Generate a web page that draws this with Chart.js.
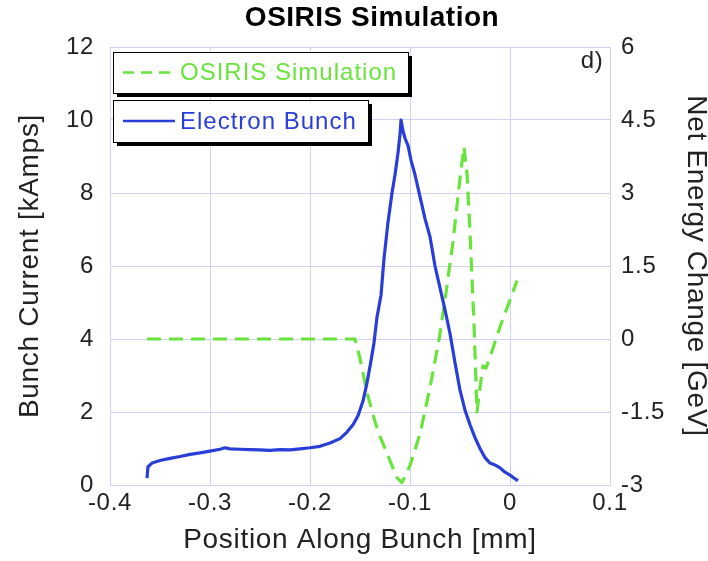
<!DOCTYPE html>
<html>
<head>
<meta charset="utf-8">
<script src="https://cdn.jsdelivr.net/npm/chart.js@4/dist/chart.umd.min.js"></script>
<style>
  html, body { margin: 0; padding: 0; background: #fff; }
  #wrap { width: 708px; height: 561px; }
</style>
</head>
<body>
<div id="wrap"><canvas id="chart" width="708" height="561"></canvas></div>
<script>
// Electron bunch current (left axis, kAmps)
const bunchPos = [-0.363, -0.362, -0.358, -0.35, -0.34, -0.33, -0.32, -0.31, -0.30, -0.29, -0.285, -0.28, -0.27, -0.26, -0.25, -0.24, -0.23, -0.22, -0.21, -0.20, -0.19, -0.18, -0.17, -0.163, -0.157, -0.152, -0.147, -0.143, -0.139, -0.136, -0.133, -0.129, -0.126, -0.122, -0.118, -0.115, -0.114, -0.112, -0.11, -0.109, -0.107, -0.105, -0.102, -0.099, -0.095, -0.09, -0.085, -0.08, -0.075, -0.07, -0.065, -0.06, -0.055, -0.05, -0.045, -0.04, -0.035, -0.03, -0.025, -0.02, -0.015, -0.01, -0.005, 0.0, 0.005, 0.008];
const bunchCurrent = [0.19, 0.5, 0.6, 0.67, 0.73, 0.78, 0.84, 0.88, 0.93, 0.98, 1.02, 0.99, 0.98, 0.97, 0.96, 0.95, 0.97, 0.96, 0.99, 1.02, 1.06, 1.15, 1.27, 1.45, 1.65, 1.9, 2.3, 2.8, 3.4, 3.9, 4.6, 5.2, 6.2, 7.2, 8.0, 8.5, 8.7, 9.1, 9.6, 10.0, 9.7, 9.5, 9.3, 8.9, 8.5, 7.9, 7.3, 6.8, 6.0, 5.4, 4.8, 4.15, 3.35, 2.6, 2.05, 1.65, 1.3, 1.0, 0.75, 0.6, 0.55, 0.47, 0.35, 0.27, 0.17, 0.12];

// OSIRIS simulation net energy change (right axis, GeV)
const simPos = [-0.363, -0.155, -0.15, -0.143, -0.135, -0.13, -0.12, -0.113, -0.108, -0.1, -0.09, -0.08, -0.07, -0.063, -0.057, -0.05, -0.046, -0.043, -0.04, -0.036, -0.033, -0.03, -0.027, -0.024, -0.018, -0.01, 0.0, 0.007];
const simEnergy = [0.0, 0.0, -0.4, -1.1, -1.7, -2.0, -2.5, -2.85, -2.95, -2.6, -1.95, -1.0, 0.1, 1.1, 2.0, 3.3, 3.95, 3.4, 2.2, 0.3, -1.5, -1.0, -0.55, -0.6, -0.25, 0.25, 0.8, 1.2];

const xTicks = [-0.4, -0.3, -0.2, -0.1, 0, 0.1];
const leftTicks = [0, 2, 4, 6, 8, 10, 12];
const rightTicks = [-3, -1.5, 0, 1.5, 3, 4.5, 6];

const blue = 'rgb(40, 62, 215)';
const green = 'rgb(105, 228, 60)';
const gridColor = 'rgb(208, 208, 245)';
const textColor = '#222';
const fontFamily = '"Liberation Sans", Arial, Helvetica, sans-serif';

function toPoints(xs, ys) {
    return xs.map((x, i) => ({ x: x, y: ys[i] }));
}

// the original figure's lettering is a bit wider than Helvetica
const spacingPlugin = {
    id: 'spacing',
    beforeUpdate(chart) { chart.ctx.letterSpacing = '0.7px'; },
    beforeDraw(chart) { chart.ctx.letterSpacing = '0.7px'; }
};

// title, legend boxes and panel label
const decorPlugin = {
    id: 'decor',
    afterDraw(chart) {
        const ctx = chart.ctx;
        ctx.save();
        ctx.letterSpacing = '0.5px';
        ctx.fillStyle = '#000';
        ctx.font = 'bold 28px ' + fontFamily;
        ctx.textAlign = 'center';
        ctx.textBaseline = 'middle';
        ctx.fillText('OSIRIS Simulation', 372, 18);

        ctx.font = '24px ' + fontFamily;
        ctx.fillStyle = textColor;
        ctx.fillText('d)', 592, 61);

        const boxes = [
            { x: 113, y: 52, w: 295, h: 41, label: 'OSIRIS Simulation', color: green, dash: [11, 7] },
            { x: 113, y: 100, w: 255, h: 42, label: 'Electron Bunch', color: blue, dash: [] }
        ];
        boxes.forEach(b => {
            ctx.fillStyle = '#000';
            ctx.fillRect(b.x + 4, b.y + 4, b.w, b.h);
            ctx.fillStyle = '#fff';
            ctx.fillRect(b.x, b.y, b.w, b.h);
            ctx.strokeStyle = '#000';
            ctx.lineWidth = 1;
            ctx.setLineDash([]);
            ctx.strokeRect(b.x + 0.5, b.y + 0.5, b.w, b.h);

            const cy = b.y + b.h / 2;
            ctx.strokeStyle = b.color;
            ctx.lineWidth = 2.5;
            ctx.setLineDash(b.dash);
            ctx.beginPath();
            ctx.moveTo(b.x + 10, cy);
            ctx.lineTo(b.x + 62, cy);
            ctx.stroke();
            ctx.setLineDash([]);

            ctx.fillStyle = b.color;
            ctx.letterSpacing = '1px';
            ctx.font = '24px ' + fontFamily;
            ctx.textAlign = 'left';
            ctx.fillText(b.label, b.x + 67, cy + 1);
        });
        ctx.restore();
    }
};

const ctx = document.getElementById('chart').getContext('2d');
const chart = new Chart(ctx, {
    type: 'line',
    data: {
        datasets: [{
            label: 'Electron Bunch',
            data: toPoints(bunchPos, bunchCurrent),
            borderColor: blue,
            borderWidth: 3.2,
            borderJoinStyle: 'round',
            pointRadius: 0,
            tension: 0,
            yAxisID: 'y'
        }, {
            label: 'OSIRIS Simulation',
            data: toPoints(simPos, simEnergy),
            borderColor: green,
            borderWidth: 3.2,
            borderDash: [14, 8],
            borderJoinStyle: 'round',
            pointRadius: 0,
            tension: 0,
            yAxisID: 'y2'
        }]
    },
    options: {
        responsive: false,
        animation: false,
        layout: { padding: { top: 47, left: 0, right: 0, bottom: 0 } },
        plugins: {
            legend: { display: false },
            title: { display: false },
            tooltip: { enabled: false }
        },
        scales: {
            x: {
                type: 'linear',
                min: -0.4,
                max: 0.1,
                afterBuildTicks: s => { s.ticks = xTicks.map(v => ({ value: v })); },
                afterFit: s => { s.height = 76; },
                ticks: {
                    color: textColor,
                    font: { size: 24, family: fontFamily },
                    padding: 4,
                    maxRotation: 0,
                    callback: v => String(Math.round(v * 10) / 10)
                },
                grid: { color: gridColor, drawTicks: false },
                border: { color: gridColor },
                title: {
                    display: true,
                    text: 'Position Along Bunch [mm]',
                    color: textColor,
                    font: { size: 28, family: fontFamily, lineHeight: 1.2 },
                    padding: { top: 0, bottom: 4 }
                }
            },
            y: {
                position: 'left',
                min: 0,
                max: 12,
                afterBuildTicks: s => { s.ticks = leftTicks.map(v => ({ value: v })); },
                afterFit: s => { s.width = 110; },
                ticks: {
                    color: textColor,
                    font: { size: 24, family: fontFamily },
                    padding: 16
                },
                grid: { color: gridColor, drawTicks: false },
                border: { color: gridColor },
                title: {
                    display: true,
                    text: 'Bunch Current [kAmps]',
                    color: textColor,
                    font: { size: 28, family: fontFamily, lineHeight: 1.2 },
                    padding: { top: 13, bottom: 0 }
                }
            },
            y2: {
                position: 'right',
                min: -3,
                max: 6,
                afterBuildTicks: s => { s.ticks = rightTicks.map(v => ({ value: v })); },
                afterFit: s => { s.width = 98; },
                ticks: {
                    color: textColor,
                    font: { size: 24, family: fontFamily },
                    padding: 11
                },
                grid: { drawOnChartArea: false, drawTicks: false },
                border: { color: gridColor },
                title: {
                    display: true,
                    text: 'Net Energy Change [GeV]',
                    color: textColor,
                    font: { size: 28, family: fontFamily, lineHeight: 0.85 },
                    padding: { top: 0, bottom: 0 }
                }
            }
        }
    },
    plugins: [spacingPlugin, decorPlugin]
});
</script>
</body>
</html>
